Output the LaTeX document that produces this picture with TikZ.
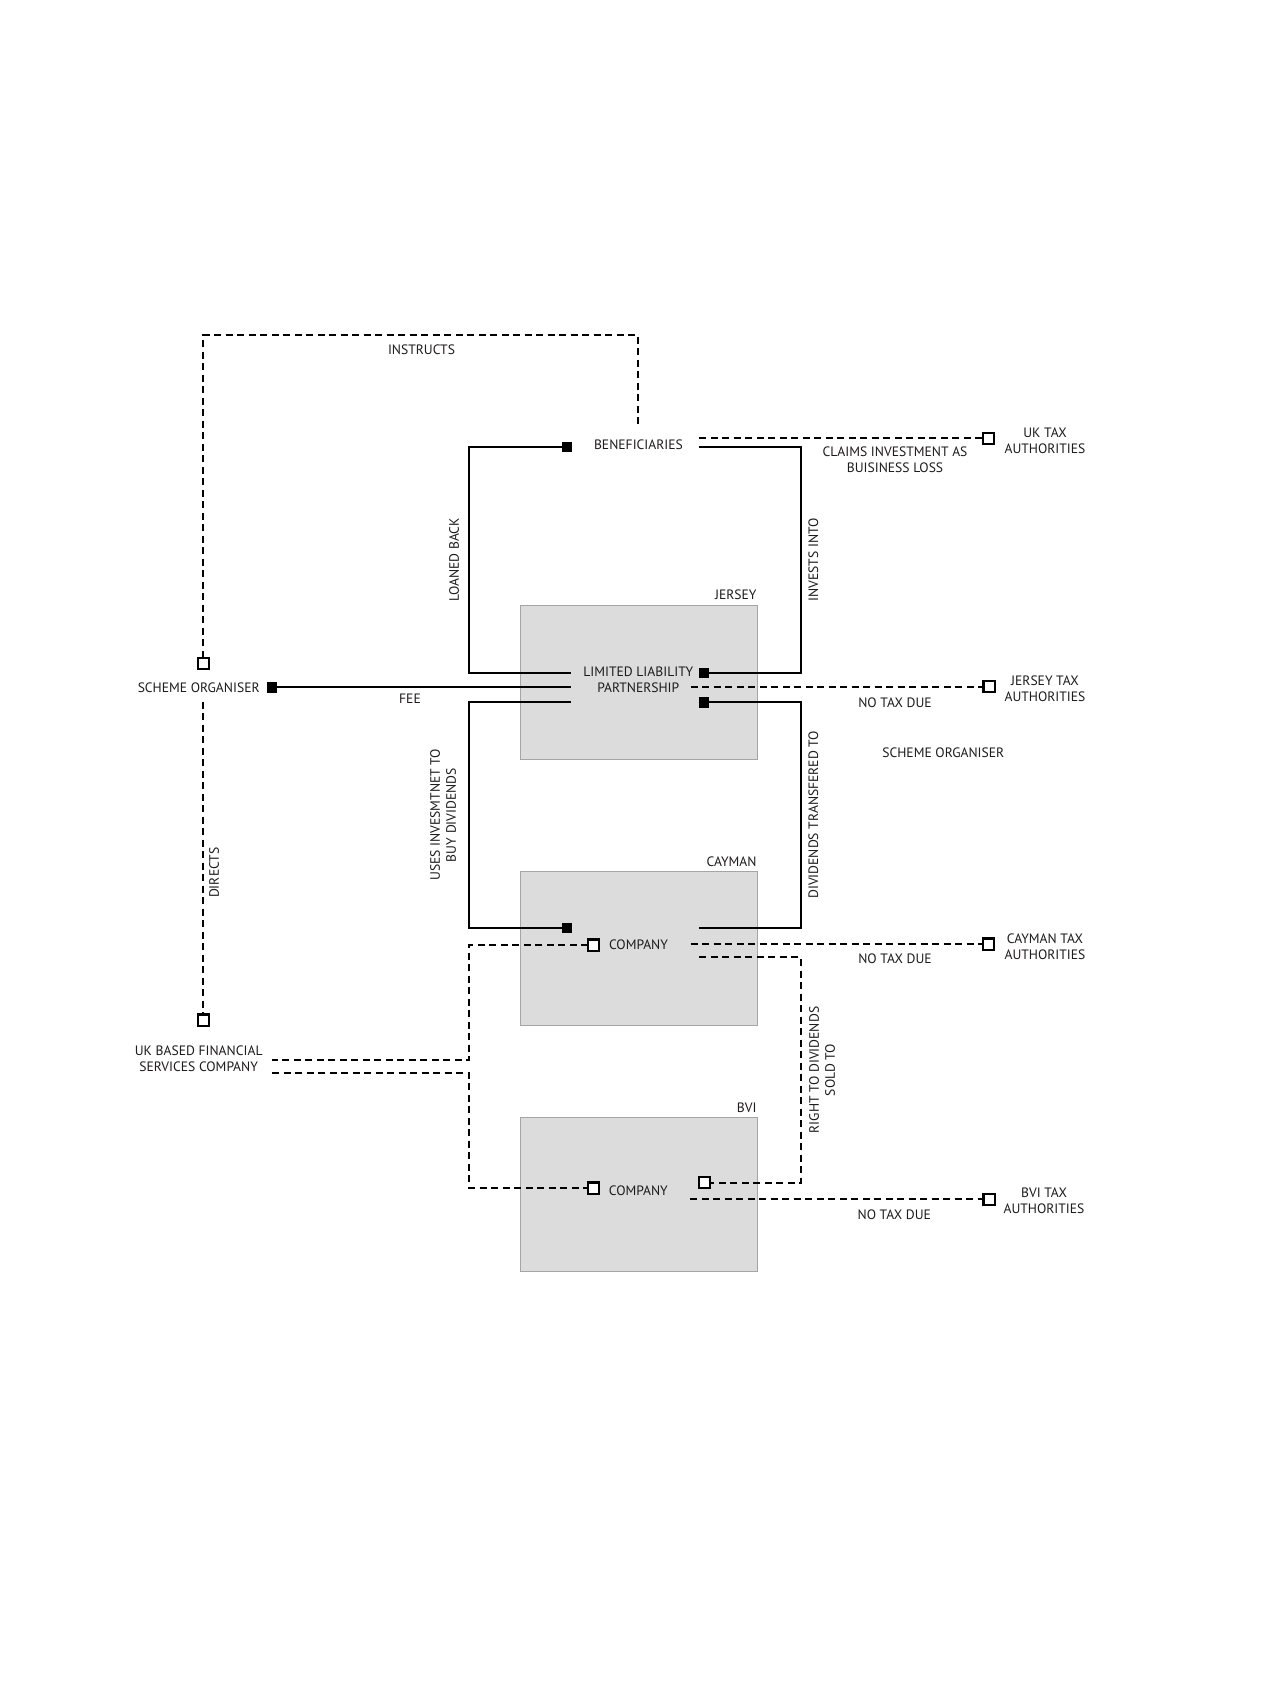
\documentclass[tikz,border=0pt]{standalone}
\usepackage{fontspec}
\setmainfont{PT Sans}
\definecolor{txtc}{RGB}{30,27,28}
\definecolor{boxfill}{RGB}{220,220,220}
\definecolor{boxdraw}{RGB}{165,165,165}
\begin{document}
\begin{tikzpicture}[x=1pt,y=-1pt,
  lbl/.style={font=\fontsize{13.6}{16}\selectfont, text=txtc, inner sep=0pt, align=center},
  solidln/.style={line width=2.2pt, draw=black},
  dashln/.style={line width=2.2pt, draw=black, dash pattern=on 7pt off 4.5pt},
  fsq/.style={rectangle, fill=black, minimum size=10pt, inner sep=0pt},
  osq/.style={rectangle, draw=black, fill=white, line width=2.2pt, minimum size=9pt, inner sep=0pt},
  region/.style={rectangle, fill=boxfill, draw=boxdraw, line width=1pt, inner sep=0pt}
]
\useasboundingbox (0,0) rectangle (1275,1700);
\fill[white] (0,0) rectangle (1275,1700);

% regions
\node[region, minimum width=237pt, minimum height=154pt] (jerseybox) at (639.2,682.2) {};
\node[region, minimum width=237pt, minimum height=154pt] (caymanbox) at (639.2,948.7) {};
\node[region, minimum width=237pt, minimum height=154pt] (bvibox) at (639.2,1194.7) {};

% labels
\node[lbl] (instr) at (421.5,350) {INSTRUCTS};
\node[lbl] (benef) at (638.5,444.3) {BENEFICIARIES};
\node[lbl] (uktax) at (1045,440.3) {UK TAX\\AUTHORITIES};
\node[lbl] (claims) at (895,459.7) {CLAIMS INVESTMENT AS\\BUISINESS LOSS};
\node[lbl, rotate=90] (loaned) at (454,560) {LOANED BACK};
\node[lbl, rotate=90] (invests) at (813.3,560) {INVESTS INTO};
\node[lbl, anchor=east] (jersey) at (756.7,595) {JERSEY};
\node[lbl] (llp) at (638.3,680) {LIMITED LIABILITY\\PARTNERSHIP};
\node[lbl] (schemeorg) at (198.7,687.3) {SCHEME ORGANISER};
\node[lbl] (fee) at (410,699) {FEE};
\node[lbl] (jerseytax) at (1045,688.8) {JERSEY TAX\\AUTHORITIES};
\node[lbl] (notax1) at (895,702.7) {NO TAX DUE};
\node[lbl] (schemeorgb) at (943.3,752.3) {SCHEME ORGANISER};
\node[lbl, rotate=90] (uses) at (443.1,815) {USES INVESMTNET TO\\BUY DIVIDENDS};
\node[lbl, rotate=90] (divtrans) at (813.3,815) {DIVIDENDS TRANSFERED TO};
\node[lbl, rotate=90] (directs) at (214,872.7) {DIRECTS};
\node[lbl, anchor=east] (cayman) at (756.7,861.7) {CAYMAN};
\node[lbl] (caycomp) at (638.5,945) {COMPANY};
\node[lbl] (caytax) at (1045,947) {CAYMAN TAX\\AUTHORITIES};
\node[lbl] (notax2) at (895,958.3) {NO TAX DUE};
\node[lbl] (ukfin) at (198.7,1059) {UK BASED FINANCIAL\\SERVICES COMPANY};
\node[lbl, rotate=90] (rightdiv) at (822,1070) {RIGHT TO DIVIDENDS\\SOLD TO};
\node[lbl, anchor=east] (bvi) at (756.7,1108) {BVI};
\node[lbl] (bvicomp) at (638.3,1190.7) {COMPANY};
\node[lbl] (bvitax) at (1044,1200.5) {BVI TAX\\AUTHORITIES};
\node[lbl] (notax3) at (894.3,1215) {NO TAX DUE};

% connector end points
\coordinate (instrY) at (0,335);
\coordinate (xL) at (469.3,0);
\coordinate (xR) at (801,0);
\coordinate (benTop) at (637.7,428.3);
\coordinate (benR1) at (699.3,438.3);
\coordinate (benR2) at (699.3,447.3);
\coordinate (llpL1) at (570.7,672.7);
\coordinate (llpL2) at (570.7,687.3);
\coordinate (llpL3) at (570.7,702.3);
\coordinate (llpR) at (690.7,686.7);
\coordinate (cayR1) at (699.3,927.7);
\coordinate (cayR2) at (690.7,944);
\coordinate (cayR3) at (699.3,957.3);
\coordinate (soBot) at (203.3,701.7);
\coordinate (ukfR1) at (272.2,1060);
\coordinate (ukfR2) at (272.2,1073.3);
\coordinate (bviR) at (690,1199.3);

% squares (positions)
\node[fsq] (sqFee) at (272.2,687.3) {};
\node[fsq] (sqBenL) at (566.9,446.7) {};
\node[fsq] (sqLLPa) at (703.7,672.7) {};
\node[fsq] (sqLLPb) at (703.7,702.3) {};
\node[fsq] (sqCayL) at (566.9,927.7) {};
\node[osq] (sqSO) at (203.3,663.3) {};
\node[osq] (sqUKF) at (203.3,1020) {};
\node[osq] (sqCayO) at (593.7,945) {};
\node[osq] (sqBviL) at (593.7,1188) {};
\node[osq] (sqBviR) at (704.7,1182.7) {};
\node[osq] (sqUKtax) at (988.3,438.3) {};
\node[osq] (sqJtax) at (989,686.7) {};
\node[osq] (sqCtax) at (988.3,944) {};
\node[osq] (sqBtax) at (989,1199.3) {};

% connectors
\draw[dashln] (sqSO.north) -- (sqSO.north |- instrY) -| (benTop);
\draw[solidln] (llpL1) -| (xL |- sqBenL.west) -- (sqBenL.west);
\draw[solidln] (benR2) -| (xR |- sqLLPa.east) -- (sqLLPa.east);
\draw[dashln] (benR1) -- (sqUKtax.west);
\draw[solidln] (sqFee.east) -- (llpL2);
\draw[dashln] (llpR) -- (sqJtax.west);
\draw[solidln] (llpL3) -| (xL |- sqCayL.west) -- (sqCayL.west);
\draw[solidln] (cayR1) -| (xR |- sqLLPb.east) -- (sqLLPb.east);
\draw[dashln] (soBot) -- (sqUKF.north);
\draw[dashln] (sqCayO.west) -| (xL |- ukfR1) -- (ukfR1);
\draw[dashln] (ukfR2) -| (xL |- sqBviL.west) -- (sqBviL.west);
\draw[dashln] (cayR2) -- (sqCtax.west);
\draw[dashln] (cayR3) -| (xR |- sqBviR.east) -- (sqBviR.east);
\draw[dashln] (bviR) -- (sqBtax.west);

% redraw squares on top of the lines
\foreach \s in {sqFee,sqBenL,sqLLPa,sqLLPb,sqCayL}{\fill[black] (\s.south west) rectangle (\s.north east);}
\foreach \s in {sqSO,sqUKF,sqCayO,sqBviL,sqBviR,sqUKtax,sqJtax,sqCtax,sqBtax}{\filldraw[fill=white,draw=black,line width=2.2pt] (\s.south west) rectangle (\s.north east);}
\end{tikzpicture}
\end{document}
